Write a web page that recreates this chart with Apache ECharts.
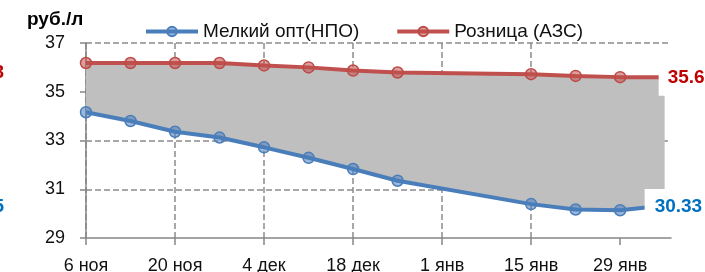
<!DOCTYPE html>
<html>
<head>
<meta charset="utf-8">
<script src="https://cdn.jsdelivr.net/npm/echarts@6/dist/echarts.min.js"></script>
<style>
  html, body { margin: 0; padding: 0; background: #fff; }
  #chart { width: 705px; height: 272px; }
</style>
</head>
<body>
<div id="chart"></div>
<script>
// даты замеров (1 и 8 янв нет)
var dates = ['2014-11-06', '2014-11-13', '2014-11-20', '2014-11-27', '2014-12-04', '2014-12-11',
             '2014-12-18', '2014-12-25', '2015-01-15', '2015-01-22', '2015-01-29', '2015-02-05'];
var wholesale = [34.16, 33.80, 33.36, 33.12, 32.72, 32.29, 31.83, 31.35, 30.39, 30.17, 30.14, 30.33];
var retail = [36.18, 36.18, 36.18, 36.18, 36.08, 36.00, 35.87, 35.79, 35.72, 35.65, 35.60, 35.60];
var tickLabels = ['6 ноя', '20 ноя', '4 дек', '18 дек', '1 янв', '15 янв', '29 янв'];
var seriesNames = ['Мелкий опт(НПО)', 'Розница (АЗС)'];

var DAY = 86400000;
var start = Date.parse(dates[0]);
var days = dates.map(function (d) { return (Date.parse(d) - start) / DAY; });

function pairs(arr) {
    return arr.map(function (v, i) { return [days[i], v]; });
}

var font = 'Liberation Sans, Arial, sans-serif';
var myChart = echarts.init(document.getElementById('chart'));

// серая полоса между розницей и оптом
function renderBand(params, api) {
    var pts = [];
    for (var i = 0; i < days.length; i++) pts.push(api.coord([days[i], retail[i]]));
    for (var j = days.length - 1; j >= 0; j--) pts.push(api.coord([days[j], wholesale[j]]));
    return { type: 'polygon', shape: { points: pts }, style: { fill: '#bfbfbf' }, silent: true };
}

var option = {
    animation: false,
    textStyle: { fontFamily: font },
    grid: { left: 86, right: 34, top: 43, bottom: 34, outerBoundsMode: 'none', containLabel: false },
    legend: {
        data: seriesNames,
        left: 139,
        top: 17,
        itemWidth: 52,
        itemHeight: 12,
        itemGap: 36,
        lineStyle: { width: 4 },
        textStyle: { fontSize: 19, color: '#111', fontFamily: font }
    },
    xAxis: {
        type: 'value',
        min: 0,
        max: 92,
        interval: 14,
        axisLine: { lineStyle: { color: '#868686', width: 1.5 } },
        axisTick: { inside: false, length: 7, lineStyle: { color: '#868686', width: 1.5 },
                    customValues: [0, 14, 28, 42, 56, 70, 84] },
        axisLabel: {
            customValues: [0, 14, 28, 42, 56, 70, 84],
            fontSize: 18, color: '#111', margin: 19,
            formatter: function (v) { return tickLabels[Math.round(v / 14)] || ''; }
        },
        splitLine: { show: true, showMaxLine: false, lineStyle: { color: '#8c8c8c', type: [6, 3], width: 1.5 } }
    },
    yAxis: {
        type: 'value',
        min: 29,
        max: 37,
        interval: 2,
        axisLine: { show: true, lineStyle: { color: '#868686', width: 1.5 } },
        axisTick: { show: true, length: 6, lineStyle: { color: '#868686', width: 1.5 } },
        axisLabel: { fontSize: 18, color: '#111', margin: 21 },
        splitLine: { show: true, showMinLine: false, lineStyle: { color: '#8c8c8c', type: [6, 3], width: 1.5 } }
    },
    graphic: [
        { type: 'text', left: 27, top: 10, style: { text: 'руб./л', font: 'bold 19px ' + font, fill: '#000' } },
        { type: 'text', x: 4, y: 73, style: { text: '36.23', font: 'bold 19px ' + font, fill: '#c00000', align: 'right', verticalAlign: 'middle' } },
        { type: 'text', x: 4, y: 207, style: { text: '34.15', font: 'bold 19px ' + font, fill: '#0070c0', align: 'right', verticalAlign: 'middle' } }
    ],
    series: [
        {
            name: 'band', type: 'custom', renderItem: renderBand, data: [0], z: 1, silent: true
        },
        {
            name: seriesNames[0], type: 'line', data: pairs(wholesale), z: 3,
            symbol: 'circle', symbolSize: 11,
            lineStyle: { color: '#4a7ebb', width: 4 },
            itemStyle: { color: 'rgba(74,126,187,0.55)', borderColor: '#4a7ebb', borderWidth: 1.5 },
            endLabel: {
                show: true, formatter: function (p) { return p.value[1].toFixed(2); }, offset: [-28, 1],
                fontSize: 19, fontWeight: 'bold', color: '#0070c0', fontFamily: font,
                backgroundColor: '#fff', padding: [8, 20, 8, 10]
            }
        },
        {
            name: seriesNames[1], type: 'line', data: pairs(retail), z: 3,
            symbol: 'circle', symbolSize: 11,
            lineStyle: { color: '#c0504d', width: 4 },
            itemStyle: { color: 'rgba(192,80,77,0.55)', borderColor: '#be4b48', borderWidth: 1.5 },
            endLabel: {
                show: true, formatter: function (p) { return p.value[1].toFixed(1); }, offset: [-14, 1],
                fontSize: 19, fontWeight: 'bold', color: '#c00000', fontFamily: font,
                backgroundColor: '#fff', padding: [8, 20, 8, 9]
            }
        }
    ]
};
myChart.setOption(option);
</script>
</body>
</html>
